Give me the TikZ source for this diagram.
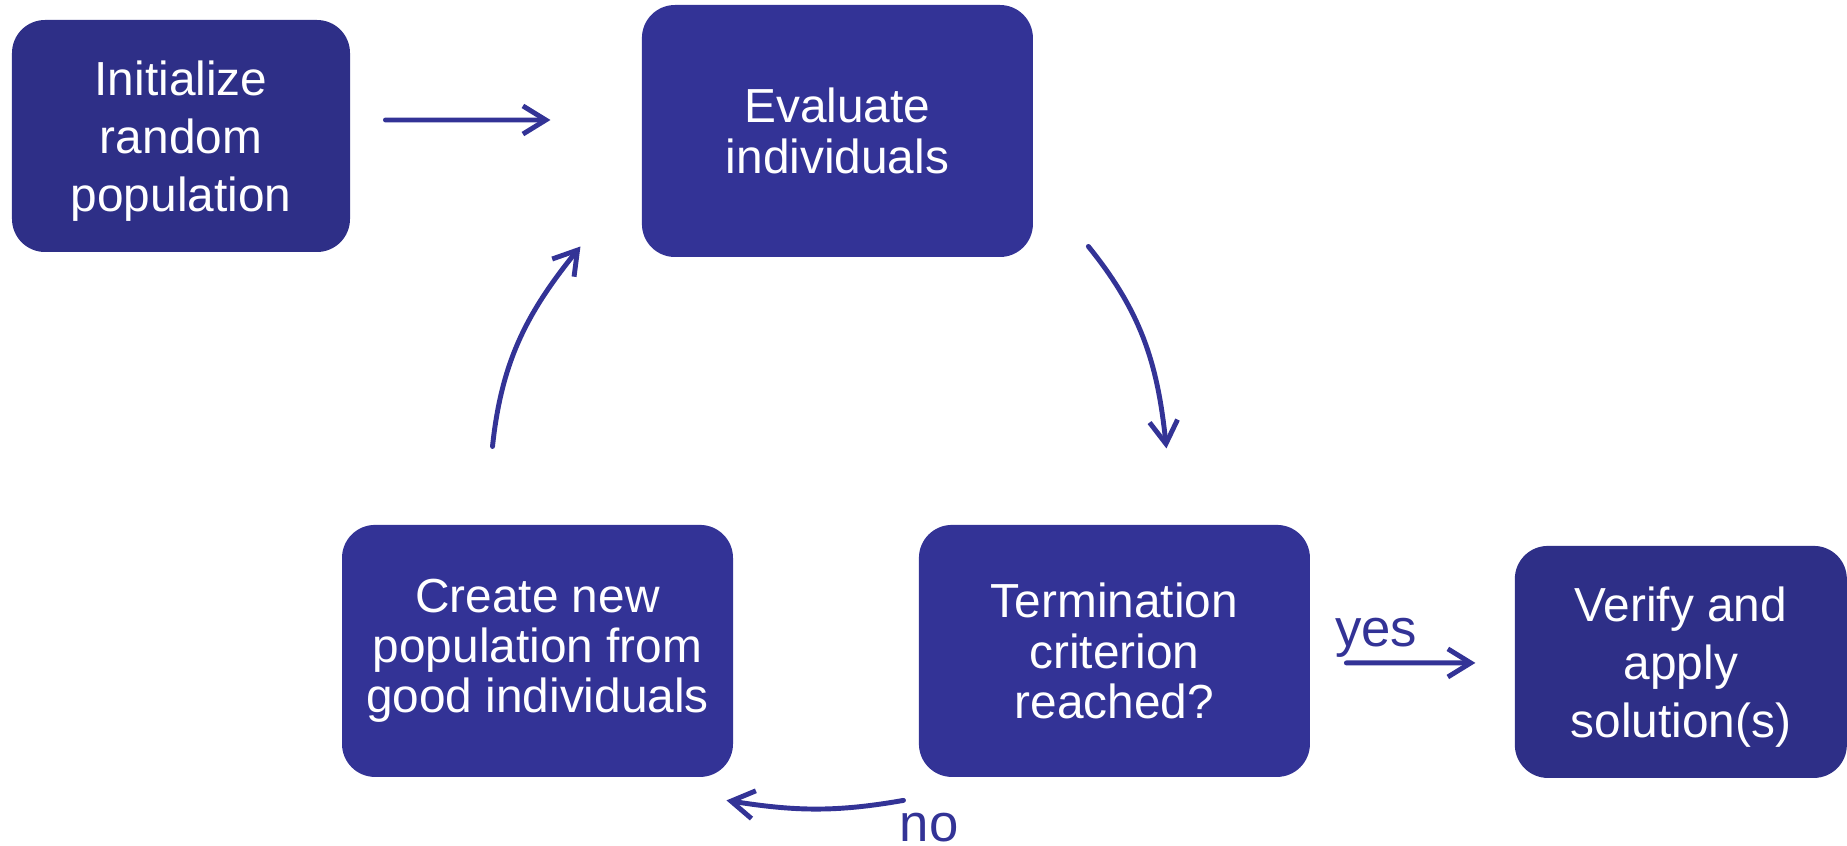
\documentclass[tikz,border=0pt]{standalone}
\usepackage{fontspec}
\setmainfont{Liberation Sans}
\usepackage{xcolor}
\usepackage{tikz}
\usetikzlibrary{positioning,arrows.meta}
\definecolor{gablue}{RGB}{51,51,150}
\definecolor{gadark}{RGB}{46,47,135}

\begin{document}
\begin{tikzpicture}[->,>={Straight Barb[length=6.5pt,width=8pt]},line width=1.4pt,draw=gablue,line cap=round,line join=round]
          \tikzstyle{stage}=[rectangle,rounded corners=0.33cm,fill=gablue,draw=none,text=white,align=center,inner sep=0pt,minimum width=3.91cm,minimum height=2.52cm,font=\fontsize{13.6}{14.3}\selectfont]
          \tikzstyle{endstage}=[stage,fill=gadark,minimum height=2.32cm,text depth=0pt,font=\fontsize{13.6}{16.5}\selectfont]
          \tikzstyle{answer}=[text=gablue,inner sep=0pt,font=\fontsize{15}{15}\selectfont]
          \useasboundingbox (0,0) rectangle (18.47,-8.46);
          \node[endstage,minimum width=3.38cm] (Init) at (1.81,-1.36) {Initialize\\random\\population};
          \node[stage]    (Eval)[right=2.87cm of Init,yshift=0.5mm]    {Evaluate\\individuals};
          \node[stage]    (Term)[below=2.63cm of Eval,xshift=2.77cm]   {Termination\\criterion\\reached?};
          \node[stage]    (New)[left=1.81cm of Term]                   {Create new\\population from\\good individuals};
          \node[endstage,minimum width=3.32cm] (Ver)[right=2.00cm of Term,yshift=-1.1mm] {Verify and\\apply\\solution(s)};
          \draw ([shift={(0.33,0.16)}]Init.east) -- ([shift={(-0.89,0.11)}]Eval.west);
          \draw ([shift={(0.53,0.13)}]Eval.south east) to[out=-51,in=96] ([shift={(0.52,0.74)}]Term.north);
          \draw ([shift={(-0.45,0.76)}]New.north) to[out=84,in=-129] ([shift={(-0.59,0.13)}]Eval.south west);
          \draw ([shift={(0.34,-0.12)}]Term.east) -- node[answer,pos=0.23,anchor=base,yshift=1.6mm] {yes} ([shift={(-0.37,-0.01)}]Ver.west);
          \draw ([shift={(-0.13,-0.21)}]Term.south west) to[out=-170,in=-9] node[answer,at start,anchor=base west,xshift=-0.6mm,yshift=-4.1mm] {no} ([shift={(-0.09,-0.21)}]New.south east);
        \end{tikzpicture}
\end{document}
